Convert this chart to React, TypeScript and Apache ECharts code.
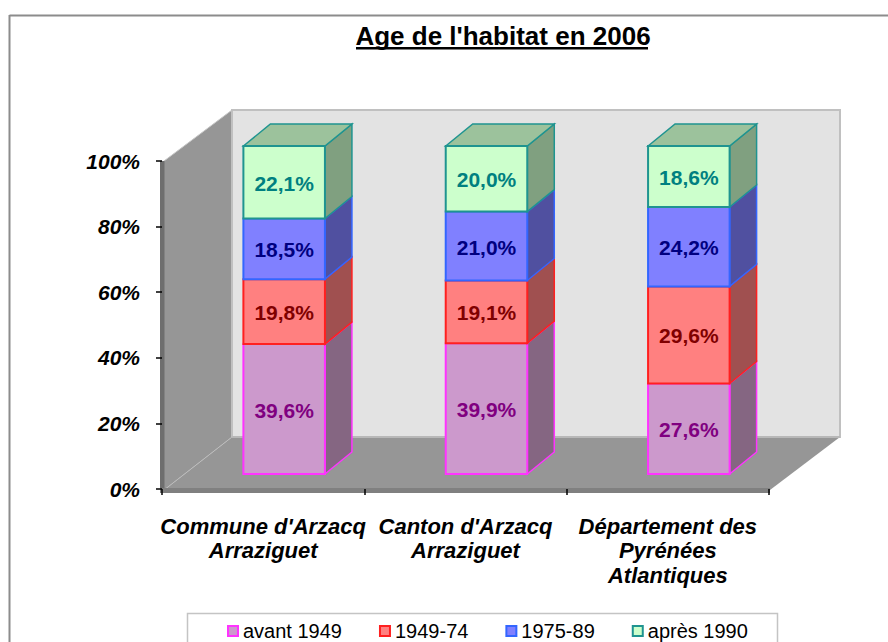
import React, { useEffect, useRef } from "react";
import * as echarts from "echarts";

const categories = ["Commune d'Arzacq\nArraziguet", "Canton d'Arzacq\nArraziguet", "Département des\nPyrénées\nAtlantiques"];
const seriesNames = ["avant 1949", "1949-74", "1975-89", "après 1990"];
const avant1949 = [39.6, 39.9, 27.6];
const de1949a74 = [19.8, 19.1, 29.6];
const de1975a89 = [18.5, 21.0, 24.2];
const apres1990 = [22.1, 20.0, 18.6];
const yTicks = [0, 20, 40, 60, 80, 100];
const titleText = "Age de l'habitat en 2006";

const FONT = '"Liberation Sans", Arial, sans-serif';
const valuesBySeries = [avant1949, de1949a74, de1975a89, apres1990];
const faces = ["#CC99CC", "#FF8080", "#8080FF", "#CCFFCC"];
const strokes = ["#FF33FF", "#FF2020", "#3366FF", "#1F9490"];
const sides = ["#856682", "#A05050", "#5050A0", "#80A080"];
const labelColors = ["#800080", "#800000", "#000080", "#008080"];
const topFace = "#9CC29C";

const SHIFT_X = 21, SHIFT_Y = -15, DEPTH_X = 27, DEPTH_Y = -22, BAR_RATIO = 0.403;

const renderBar = (params: any, api: any) => {
  const cat = api.value(0), lo = api.value(1), hi = api.value(2), val = api.value(3);
  const si = params.seriesIndex;
  const pLo = api.coord([cat, lo]);
  const pHi = api.coord([cat, hi]);
  const bw = api.size([1, 0])[0] * BAR_RATIO;
  const x0 = pLo[0] + SHIFT_X - bw / 2, x1 = x0 + bw;
  const yb = pLo[1] + SHIFT_Y, yt = pHi[1] + SHIFT_Y;
  const children: any[] = [
    {
      type: "polygon",
      shape: { points: [[x1, yb], [x1 + DEPTH_X, yb + DEPTH_Y], [x1 + DEPTH_X, yt + DEPTH_Y], [x1, yt]] },
      style: { fill: sides[si], stroke: strokes[si], lineWidth: 1.5 },
    },
  ];
  if (si === valuesBySeries.length - 1) {
    children.push({
      type: "polygon",
      shape: { points: [[x0, yt], [x0 + DEPTH_X, yt + DEPTH_Y], [x1 + DEPTH_X, yt + DEPTH_Y], [x1, yt]] },
      style: { fill: topFace, stroke: strokes[si], lineWidth: 1.5 },
    });
  }
  children.push({
    type: "rect",
    shape: { x: x0, y: yt, width: bw, height: yb - yt },
    style: { fill: faces[si], stroke: strokes[si], lineWidth: 2 },
  });
  children.push({
    type: "text",
    style: {
      text: val.toFixed(1).replace(".", ",") + "%",
      x: (x0 + x1) / 2,
      y: (yb + yt) / 2 + 1,
      align: "center",
      verticalAlign: "middle",
      fontFamily: FONT,
      fontWeight: "bold",
      fontSize: 21,
      fill: labelColors[si],
    },
  });
  return { type: "group", children };
};

const bg = (el: any) => ({ z: -5, silent: true, ...el });

export default function App() {
  const ref = useRef<HTMLDivElement>(null);
  useEffect(() => {
    document.body.style.margin = "0";
    const chart = echarts.init(ref.current!, undefined, { renderer: "svg" });
    const running = [0, 0, 0];
    const series = valuesBySeries.map((vals, si) => {
      const data = vals.map((v, i) => {
        const lo = running[i];
        running[i] += v;
        return [i, lo, running[i], v];
      });
      return {
        type: "custom",
        name: seriesNames[si],
        renderItem: renderBar,
        data,
        encode: { x: 0, y: [1, 2] },
        itemStyle: { color: faces[si] },
        z: 3,
        silent: true,
      };
    });
    chart.setOption({
      animation: false,
      backgroundColor: "#FFFFFF",
      title: {
        text: titleText,
        left: 498,
        top: 18,
        textAlign: "center",
        textStyle: { fontFamily: FONT, fontWeight: "bold", fontSize: 26, color: "#000" },
      },
      grid: { left: 162, top: 161, width: 607, height: 328 },
      xAxis: {
        type: "category",
        data: categories,
        axisLine: { show: false },
        axisTick: { show: true, length: 6, lineStyle: { color: "#000", width: 1.5 } },
        axisLabel: {
          margin: 25,
          interval: 0,
          fontFamily: FONT,
          fontWeight: "bold",
          fontStyle: "italic",
          fontSize: 22,
          lineHeight: 24.5,
          color: "#000",
        },
      },
      yAxis: {
        type: "value",
        min: yTicks[0],
        max: yTicks[yTicks.length - 1],
        interval: 20,
        splitLine: { show: false },
        axisLine: { show: false },
        axisTick: { show: true, length: 6, lineStyle: { color: "#000", width: 1.5 } },
        axisLabel: {
          margin: 22,
          padding: [2, 0, 0, 0],
          formatter: "{value}%",
          fontFamily: FONT,
          fontWeight: "bold",
          fontStyle: "italic",
          fontSize: 21,
          color: "#000",
        },
      },
      legend: {
        left: 227,
        top: 621,
        padding: 0,
        itemGap: 37,
        itemWidth: 10,
        itemHeight: 10,
        selectedMode: false,
        textStyle: { fontFamily: FONT, fontSize: 20, color: "#000" },
        data: seriesNames.map((name, i) => ({
          name,
          icon: "rect",
          itemStyle: { color: faces[i], borderColor: strokes[i], borderWidth: 2 },
        })),
      },
      series,
      graphic: {
        elements: [
          bg({ type: "line", shape: { x1: 9.5, y1: 15.5, x2: 888, y2: 15.5 }, style: { stroke: "#8C8C8C", lineWidth: 2 } }),
          bg({ type: "line", shape: { x1: 9.5, y1: 15, x2: 9.5, y2: 642 }, style: { stroke: "#8C8C8C", lineWidth: 2 } }),
          // back wall
          bg({ type: "polygon", shape: { points: [[232, 110], [840, 110], [840, 437], [232, 437]] }, style: { fill: "#E3E3E3", stroke: "#C0C0C0", lineWidth: 2 } }),
          // left wall
          bg({ type: "polygon", shape: { points: [[164, 161], [232, 110], [232, 437], [164, 490]] }, style: { fill: "#969696" } }),
          bg({ type: "line", shape: { x1: 164, y1: 161, x2: 232, y2: 110 }, style: { stroke: "#C8C8C8", lineWidth: 1 } }),
          bg({ type: "line", shape: { x1: 232, y1: 110, x2: 232, y2: 437 }, style: { stroke: "#C0C0C0", lineWidth: 2 } }),
          // floor
          bg({ type: "polygon", shape: { points: [[164, 490], [232, 437], [840, 437], [770, 490]] }, style: { fill: "#969696" } }),
          bg({ type: "line", shape: { x1: 232, y1: 437, x2: 840, y2: 437 }, style: { stroke: "#B8B8B8", lineWidth: 2 } }),
          bg({ type: "line", shape: { x1: 164, y1: 490, x2: 232, y2: 437 }, style: { stroke: "#BDBDBD", lineWidth: 1 } }),
          // front edges
          bg({ type: "rect", shape: { x: 160, y: 161, width: 4.5, height: 332 }, style: { fill: "#6E6E6E" } }),
          bg({ type: "rect", shape: { x: 160, y: 488, width: 610, height: 5 }, style: { fill: "#808080" } }),
          // title underline
          bg({ type: "rect", shape: { x: 356, y: 47, width: 292, height: 2.5 }, style: { fill: "#000" } }),
          // legend box
          bg({ type: "rect", shape: { x: 187.5, y: 613.5, width: 590, height: 40 }, style: { fill: "#FFF", stroke: "#C4C4C4", lineWidth: 1.5 } }),
        ],
      },
    });
    return () => chart.dispose();
  }, []);
  return <div ref={ref} style={{ position: "fixed", left: 0, top: 0, width: 888, height: 642 }} />;
}
